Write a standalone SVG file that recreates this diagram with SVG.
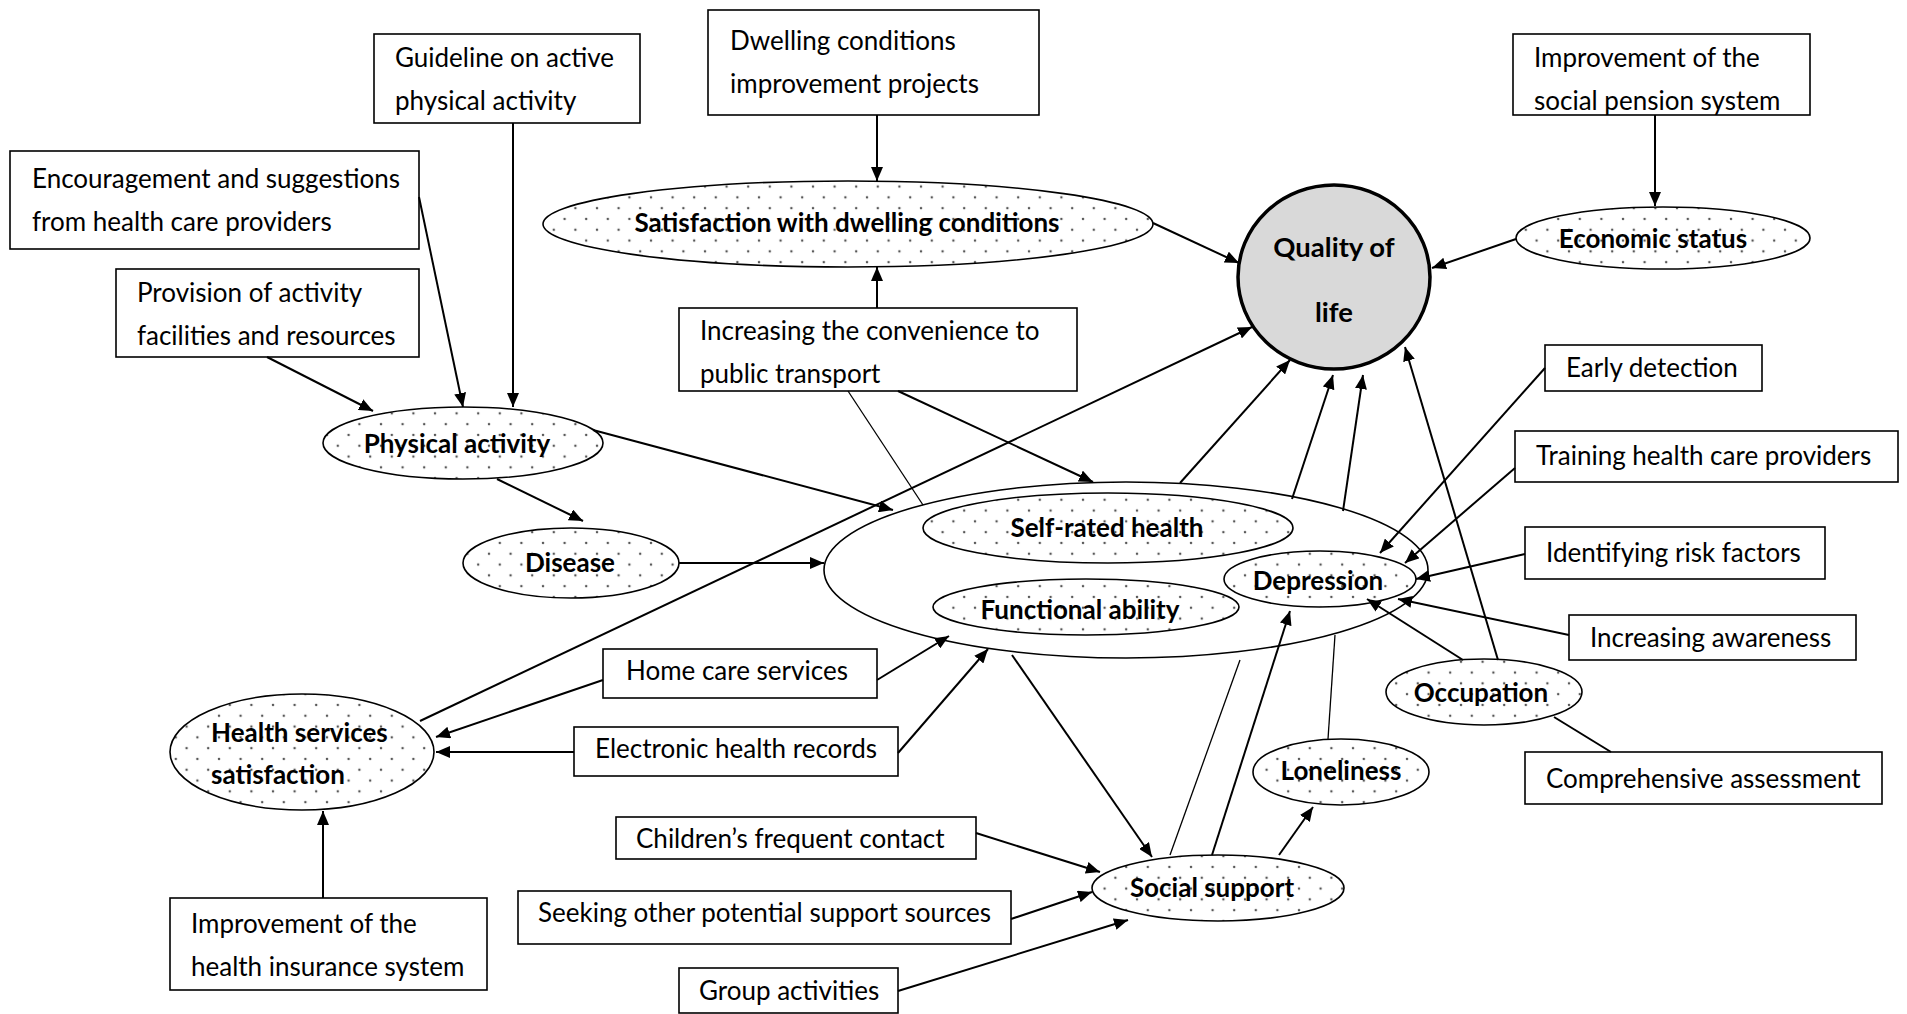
<svg xmlns="http://www.w3.org/2000/svg" width="1907" height="1014" viewBox="0 0 1907 1014">
  <defs>
    <pattern id="dots" width="21.6" height="21.6" patternUnits="userSpaceOnUse">
      <rect width="21.6" height="21.6" fill="#fff"/>
      <circle cx="3" cy="3" r="1.25" fill="#555"/>
      <circle cx="13.8" cy="13.8" r="1.25" fill="#555"/>
    </pattern>
    <marker id="arr" markerUnits="userSpaceOnUse" markerWidth="15" markerHeight="12" refX="14" refY="6" orient="auto">
      <path d="M0,0 L14,6 L0,12 z" fill="#000"/>
    </marker>
    <style>
      .box { fill: #fff; stroke: #000; stroke-width: 1.6; }
      .var { fill: url(#dots); stroke: #000; stroke-width: 1.6; }
      .t { font-family: Lato, "Open Sans", sans-serif; font-size: 26px; fill: #000; }
      .b { font-family: Lato, "Open Sans", sans-serif; font-size: 26px; font-weight: bold; fill: #000; text-anchor: middle; }
      .a { fill: none; stroke: #000; stroke-width: 2; marker-end: url(#arr); }
      .l { fill: none; stroke: #000; stroke-width: 1.3; }
    </style>
  </defs>
  <rect width="1907" height="1014" fill="#fff"/>

  <!-- outer grouping of health outcomes -->
  <g id="health-outcomes">
    <ellipse cx="1126" cy="570" rx="302" ry="88" fill="none" stroke="#000" stroke-width="1.6"/>
  </g>

  <g id="guideline">
    <rect class="box" x="374" y="34" width="266" height="89"/>
    <text class="t" x="395" y="67">Guideline on active</text>
    <text class="t" x="395" y="110">physical activity</text>
  </g>
  <g id="dwelling-projects">
    <rect class="box" x="708" y="10" width="331" height="105"/>
    <text class="t" x="730" y="50">Dwelling conditions</text>
    <text class="t" x="730" y="93">improvement projects</text>
  </g>
  <g id="pension">
    <rect class="box" x="1513" y="34" width="297" height="81"/>
    <text class="t" x="1534" y="67">Improvement of the</text>
    <text class="t" x="1534" y="110">social pension system</text>
  </g>
  <g id="encouragement">
    <rect class="box" x="10" y="151" width="409" height="98"/>
    <text class="t" x="32" y="188">Encouragement and suggestions</text>
    <text class="t" x="32" y="231">from health care providers</text>
  </g>
  <g id="provision">
    <rect class="box" x="116" y="269" width="303" height="88"/>
    <text class="t" x="137" y="302">Provision of activity</text>
    <text class="t" x="137" y="345">facilities and resources</text>
  </g>
  <g id="transport">
    <rect class="box" x="679" y="308" width="398" height="83"/>
    <text class="t" x="700" y="340">Increasing the convenience to</text>
    <text class="t" x="700" y="383">public transport</text>
  </g>
  <g id="early-detection">
    <rect class="box" x="1545" y="345" width="217" height="46"/>
    <text class="t" x="1566" y="377">Early detection</text>
  </g>
  <g id="training">
    <rect class="box" x="1515" y="431" width="383" height="51"/>
    <text class="t" x="1536" y="465">Training health care providers</text>
  </g>
  <g id="risk-factors">
    <rect class="box" x="1525" y="527" width="300" height="52"/>
    <text class="t" x="1546" y="562">Identifying risk factors</text>
  </g>
  <g id="awareness">
    <rect class="box" x="1569" y="615" width="287" height="45"/>
    <text class="t" x="1590" y="647">Increasing awareness</text>
  </g>
  <g id="assessment">
    <rect class="box" x="1525" y="752" width="357" height="52"/>
    <text class="t" x="1546" y="788">Comprehensive assessment</text>
  </g>
  <g id="home-care">
    <rect class="box" x="603" y="649" width="274" height="49"/>
    <text class="t" x="626" y="680">Home care services</text>
  </g>
  <g id="health-records">
    <rect class="box" x="574" y="727" width="324" height="49"/>
    <text class="t" x="595" y="758">Electronic health records</text>
  </g>
  <g id="children-contact">
    <rect class="box" x="616" y="817" width="360" height="42"/>
    <text class="t" x="636" y="848">Children’s frequent contact</text>
  </g>
  <g id="support-sources">
    <rect class="box" x="518" y="891" width="493" height="53"/>
    <text class="t" x="538" y="922">Seeking other potential support sources</text>
  </g>
  <g id="group-activities">
    <rect class="box" x="679" y="968" width="219" height="45"/>
    <text class="t" x="699" y="1000">Group activities</text>
  </g>
  <g id="insurance">
    <rect class="box" x="170" y="898" width="317" height="92"/>
    <text class="t" x="191" y="933">Improvement of the</text>
    <text class="t" x="191" y="976">health insurance system</text>
  </g>

  <g id="dwelling-satisfaction">
    <ellipse class="var" cx="848" cy="224" rx="305" ry="43"/>
    <text class="b" x="847" y="232">Satisfaction with dwelling conditions</text>
  </g>
  <g id="economic-status">
    <ellipse class="var" cx="1663" cy="238" rx="147" ry="31"/>
    <text class="b" x="1653" y="248">Economic status</text>
  </g>
  <g id="physical-activity">
    <ellipse class="var" cx="463" cy="443" rx="140" ry="36"/>
    <text class="b" x="457" y="453">Physical activity</text>
  </g>
  <g id="disease">
    <ellipse class="var" cx="571" cy="563" rx="108" ry="35"/>
    <text class="b" x="570" y="572">Disease</text>
  </g>
  <g id="self-rated-health">
    <ellipse class="var" cx="1108" cy="528" rx="185" ry="35"/>
    <text class="b" x="1107" y="537">Self-rated health</text>
  </g>
  <g id="functional-ability">
    <ellipse class="var" cx="1086" cy="607" rx="153" ry="28"/>
    <text class="b" x="1080" y="619">Functional ability</text>
  </g>
  <g id="depression">
    <ellipse class="var" cx="1320" cy="579" rx="96" ry="28"/>
    <text class="b" x="1318" y="590">Depression</text>
  </g>
  <g id="occupation">
    <ellipse class="var" cx="1484" cy="692" rx="98" ry="33"/>
    <text class="b" x="1481" y="702">Occupation</text>
  </g>
  <g id="loneliness">
    <ellipse class="var" cx="1341" cy="772" rx="88" ry="33"/>
    <text class="b" x="1341" y="780">Loneliness</text>
  </g>
  <g id="social-support">
    <ellipse class="var" cx="1218" cy="888" rx="126" ry="33"/>
    <text class="b" x="1212" y="897">Social support</text>
  </g>
  <g id="health-services">
    <ellipse class="var" cx="302" cy="752" rx="132" ry="58"/>
    <text class="b" x="211" y="742" style="text-anchor:start">Health services</text>
    <text class="b" x="211" y="784" style="text-anchor:start">satisfaction</text>
  </g>
  <g id="quality-of-life">
    <ellipse cx="1334" cy="277" rx="96" ry="92" fill="#d9d9d9" stroke="#000" stroke-width="3.5"/>
    <text class="b" x="1334" y="257" style="font-size:27.5px">Quality of</text>
    <text class="b" x="1334" y="322" style="font-size:27.5px">life</text>
  </g>

  <g id="connectors">
    <line class="a" x1="267" y1="357" x2="373" y2="411"/>
    <line class="a" x1="419" y1="197" x2="463" y2="407"/>
    <line class="a" x1="513" y1="123" x2="513" y2="407"/>
    <line class="a" x1="877" y1="115" x2="877" y2="181"/>
    <line class="a" x1="877" y1="308" x2="877" y2="267"/>
    <line class="a" x1="1153" y1="223" x2="1239" y2="263"/>
    <line class="a" x1="1655" y1="115" x2="1655" y2="206"/>
    <line class="a" x1="1516" y1="239" x2="1432" y2="268"/>
    <line class="a" x1="593" y1="430" x2="893" y2="510"/>
    <line class="a" x1="497" y1="479" x2="583" y2="521"/>
    <line class="a" x1="679" y1="563" x2="824" y2="563"/>
    <line class="a" x1="898" y1="391" x2="1093" y2="482"/>
    <line class="l" x1="848" y1="391" x2="923" y2="505"/>
    <line class="a" x1="420" y1="721" x2="1252" y2="327"/>
    <line class="a" x1="603" y1="680" x2="436" y2="737"/>
    <line class="a" x1="574" y1="752" x2="436" y2="752"/>
    <line class="a" x1="877" y1="680" x2="949" y2="636"/>
    <line class="a" x1="898" y1="753" x2="988" y2="649"/>
    <line class="a" x1="323" y1="898" x2="323" y2="811"/>
    <line class="a" x1="1180" y1="483" x2="1290" y2="360"/>
    <line class="a" x1="1292" y1="499" x2="1333" y2="375"/>
    <line class="a" x1="1343" y1="511" x2="1363" y2="375"/>
    <line class="a" x1="1498" y1="660" x2="1405" y2="347"/>
    <line class="a" x1="1545" y1="368" x2="1380" y2="553"/>
    <line class="a" x1="1515" y1="468" x2="1405" y2="563"/>
    <line class="a" x1="1525" y1="554" x2="1416" y2="579"/>
    <line class="a" x1="1569" y1="635" x2="1398" y2="599"/>
    <line class="a" x1="1463" y1="660" x2="1367" y2="599"/>
    <line class="l" x1="1611" y1="752" x2="1554" y2="717" style="stroke-width:2"/>
    <line class="l" x1="1328" y1="739" x2="1335" y2="635"/>
    <line class="a" x1="1212" y1="855" x2="1290" y2="611"/>
    <line class="l" x1="1170" y1="855" x2="1240" y2="660"/>
    <line class="a" x1="1012" y1="655" x2="1152" y2="857"/>
    <line class="a" x1="1279" y1="855" x2="1313" y2="807"/>
    <line class="a" x1="976" y1="833" x2="1100" y2="872"/>
    <line class="a" x1="1011" y1="919" x2="1092" y2="892"/>
    <line class="a" x1="898" y1="991" x2="1128" y2="920"/>
  </g>
</svg>
